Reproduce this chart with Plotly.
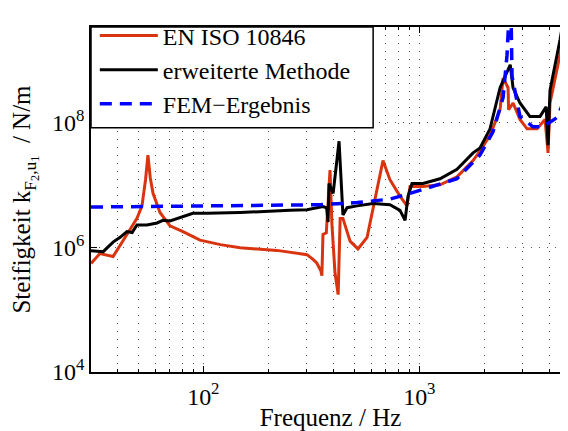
import plotly.graph_objects as go

# EN ISO 10846 (red)
en_f = [30.2, 33.2, 38.2, 41.5, 44.3, 49.3, 52.0, 54.0, 55.4, 56.8, 58.5, 63.0, 70.1, 80.5, 96.5, 120,
        148, 219, 302, 322, 335, 350, 354, 358, 371, 386, 394, 407, 421, 430, 443, 478, 520, 573,
        637, 679, 731, 814, 877, 906, 1040, 1247, 1494, 1774, 1910, 2125, 2365, 2442, 2576, 2590,
        2716, 2924, 3155, 3510, 3819, 3945, 4027, 4480, 4760]
en_k = [5.5e5, 7.9e5, 7.1e5, 1.1e6, 1.6e6, 2.9e6, 4.6e6, 1.2e7, 3.0e7, 1.3e7, 7.3e6, 3.6e6, 2.2e6,
        1.78e6, 1.3e6, 1.1e6, 9.8e5, 8.9e5, 7.6e5, 6.4e5, 5.6e5, 4.2e5, 3.5e5, 1.6e6, 1.7e6, 1.72e7,
        2.3e6, 3.9e5, 1.74e5, 2.9e6, 2.9e6, 1.25e6, 9.4e5, 1.44e6, 8.5e6, 2.45e7, 1.21e7, 6.6e6,
        4.6e6, 9.4e6, 9.4e6, 1.0e7, 1.34e7, 2.45e7, 3.5e7, 6.2e7, 1.6e8, 5.15e8, 3.6e8, 1.6e8,
        2.05e8, 1.12e8, 7.9e7, 7.9e7, 1.12e8, 3.25e7, 2.05e8, 1.21e9, 4.0e9]

# erweiterte Methode (black)
ext_f = [30.2, 34.4, 38.2, 41.2, 44.3, 46.8, 49.3, 54.8, 61.1, 65.0, 70.1, 78.0, 89.5, 104, 148, 252,
         302, 358, 372, 378, 382, 399, 425, 443, 463, 515, 611, 731, 814, 859, 887, 925, 1040, 1247,
         1494, 1774, 1910, 2125, 2365, 2636, 2716, 2924, 3250, 3622, 3866, 3945, 4027, 4480, 4625]
ext_k = [8.8e5, 8.5e5, 1.21e6, 1.44e6, 1.78e6, 1.72e6, 2.28e6, 2.28e6, 2.45e6, 2.7e6, 2.63e6, 3.0e6,
         3.5e6, 3.5e6, 3.6e6, 3.9e6, 4.0e6, 4.5e6, 4.3e6, 2.54e6, 1.05e7, 7.3e6, 5.0e7, 3.3e6, 4.3e6,
         4.6e6, 5.0e6, 4.8e6, 3.9e6, 2.7e6, 6.6e6, 1.05e7, 1.05e7, 1.25e7, 1.78e7, 3.25e7, 3.9e7,
         7.9e7, 3.6e8, 8.4e8, 3.6e8, 2.05e8, 1.25e8, 1.25e8, 1.78e8, 4.3e7, 3.25e8, 2.1e9, 4.0e9]

# FEM-Ergebnis (blue dashed)
fem_f = [30.2, 347, 515, 731, 906, 1040, 1494, 1910, 2193, 2442, 2547, 2600, 2630, 2660, 2687,
         2924, 3360, 3740, 4345, 4830]
fem_k = [4.4e6, 4.8e6, 5.2e6, 5.9e6, 7.3e6, 8.5e6, 1.25e7, 3.0e7, 7.1e7, 2.5e8, 1.2e9, 5e9, 1e11,
         5e9, 5.5e8, 1.25e8, 8.5e7, 8.5e7, 1.2e8, 2.9e8]

x_tickvals = [100, 1000]
x_ticktext = ["10<sup>2</sup>", "10<sup>3</sup>"]
x_minor = [40, 50, 60, 70, 80, 90, 200, 300, 400, 500, 600, 700, 800, 900, 2000, 3000, 4000]
y_tickvals = [1e4, 1e6, 1e8]
y_ticktext = ["10<sup>4</sup>", "10<sup>6</sup>", "10<sup>8</sup>"]

FONT = "Liberation Serif"
GRIDC = "#555"
GRIDDASH = "1px,7px"

fig = go.Figure()
fig.add_trace(go.Scatter(x=en_f, y=en_k, mode="lines", name="EN ISO 10846",
                         line=dict(color="#D9340F", width=3)))
fig.add_trace(go.Scatter(x=ext_f, y=ext_k, mode="lines", name="erweiterte Methode",
                         line=dict(color="black", width=3)))
fig.add_trace(go.Scatter(x=fem_f, y=fem_k, mode="lines", name="FEM\u2212Ergebnis",
                         line=dict(color="#0000FF", width=3.5, dash="12px,8px")))

fig.update_xaxes(type="log", range=[1.480, 3.6976], tickvals=x_tickvals, ticktext=x_ticktext,
                 ticks="inside", ticklen=6, tickcolor="black", showline=True, linecolor="black",
                 linewidth=1.5, mirror="ticks", automargin=False, ticklabelstandoff=2,
                 showgrid=True, gridcolor=GRIDC, gridwidth=1, griddash=GRIDDASH,
                 minor=dict(tickvals=x_minor, ticks="inside", ticklen=3, tickcolor="black",
                            showgrid=True, gridcolor=GRIDC, griddash=GRIDDASH, gridwidth=1),
                 title=dict(text="Frequenz / Hz", font=dict(size=25, family=FONT), standoff=0),
                 tickfont=dict(size=24, family=FONT, color="black"), zeroline=False)
fig.update_yaxes(type="log", range=[4.0, 9.53], tickvals=y_tickvals, ticktext=y_ticktext,
                 ticks="inside", ticklen=6, tickcolor="black", showline=True, linecolor="black",
                 linewidth=1.5, mirror="ticks", automargin=False,
                 showgrid=True, gridcolor=GRIDC, gridwidth=1, griddash=GRIDDASH,
                 title=dict(text="Steifigkeit k<sub>F<sub>2</sub>,u<sub>1</sub></sub>  / N/m"
                                 "\u00a0\u00a0\u00a0\u00a0\u00a0",
                            font=dict(size=25, family=FONT), standoff=14),
                 tickfont=dict(size=24, family=FONT, color="black"), zeroline=False)

# legend frame (white box with black border, as in the reference)
fig.add_shape(type="rect", xref="paper", yref="paper", x0=0, x1=0.589, y0=0.708, y1=1,
              line=dict(color="black", width=1.5), fillcolor="white", layer="above")

fig.update_layout(
    width=568, height=431,
    margin=dict(l=83, r=6, t=5, b=67),
    paper_bgcolor="white", plot_bgcolor="white",
    font=dict(family=FONT, color="black"),
    showlegend=True,
    legend=dict(x=0.008, y=1.0395, xanchor="left", yanchor="top", bgcolor="rgba(0,0,0,0)",
                borderwidth=0, font=dict(size=24, family=FONT),
                itemwidth=58, tracegroupgap=0),
)

fig.write_html("out.html")
